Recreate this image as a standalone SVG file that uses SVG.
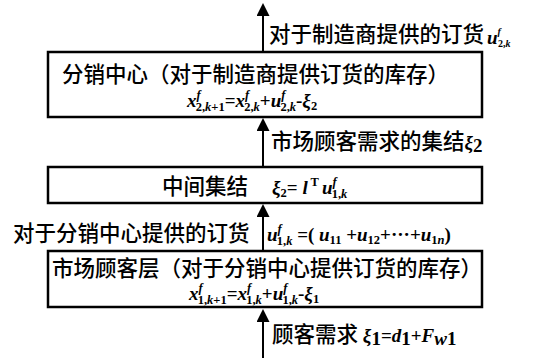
<svg xmlns="http://www.w3.org/2000/svg" width="533" height="358" viewBox="0 0 533 358">
<style>
.box{fill:#fff;stroke:#000;stroke-width:2.5}
.cn{font-family:"Noto Sans CJK SC","Liberation Sans",sans-serif;font-size:21.5px;font-weight:500;fill:#000}
.m{font-family:"Liberation Serif",serif;font-weight:bold;font-size:19px;fill:#000}
.i{font-style:italic}
.s{font-size:12.5px}
.conn{stroke:#000;stroke-width:2;fill:none;marker-end:url(#ah)}
</style>
<defs>
<marker id="ah" markerUnits="userSpaceOnUse" markerWidth="14" markerHeight="14" refX="3" refY="6.5" orient="auto">
<path d="M0,0 L13,6.5 L0,13 z" fill="#000"/>
</marker>
</defs>
<rect width="533" height="358" fill="#fff"/>
<g id="connectors">
<line class="conn" x1="263" y1="52" x2="263" y2="13"/>
<line class="conn" x1="263" y1="167" x2="263" y2="128"/>
<line class="conn" x1="263" y1="251" x2="263" y2="214"/>
<line class="conn" x1="263" y1="358" x2="263" y2="319"/>
</g>
<g id="label-top">
<text class="cn" x="269" y="42">对于制造商提供的订货</text>
<text class="m" x="487" y="44" font-size="15"><tspan class="i">u</tspan><tspan class="i" font-size="10" dy="-9">f</tspan><tspan font-size="10" dx="-3" dy="12">2,</tspan><tspan class="i" font-size="10">k</tspan></text>
</g>
<g id="node-distribution">
<rect class="box" x="48" y="52" width="434" height="65"/>
<text class="cn" x="62" y="82">分销中心（对于制造商提供订货的库存）</text>
<text class="m" x="187" y="107"><tspan class="i">x</tspan><tspan class="s i" dy="-8">f</tspan><tspan class="s" dx="-5" dy="12">2,</tspan><tspan class="s i">k</tspan><tspan class="s">+1</tspan><tspan dy="-4">=</tspan><tspan class="i">x</tspan><tspan class="s i" dy="-8">f</tspan><tspan class="s" dx="-5" dy="12">2,</tspan><tspan class="s i">k</tspan><tspan dy="-4">+</tspan><tspan class="i">u</tspan><tspan class="s i" dy="-8">f</tspan><tspan class="s" dx="-5" dy="12">2,</tspan><tspan class="s i">k</tspan><tspan dy="-4">-</tspan><tspan class="i">ξ</tspan><tspan class="s" dy="3">2</tspan></text>
</g>
<g id="label-aggregate">
<text class="cn" x="271" y="149">市场顾客需求的集结<tspan class="m i" font-size="19">ξ</tspan><tspan class="m" font-size="12.5" dy="3">2</tspan></text>
</g>
<g id="node-intermediate">
<rect class="box" x="48" y="167" width="434" height="36"/>
<text class="cn" x="162" y="194">中间集结</text>
<text class="m" x="272" y="194"><tspan class="i">ξ</tspan><tspan class="s" dy="3">2</tspan><tspan dy="-3">= </tspan><tspan class="i">l</tspan><tspan class="s" dy="-8"> T</tspan><tspan class="i" dx="3" dy="8">u</tspan><tspan class="s i" dy="-8">f</tspan><tspan class="s" dx="-5" dy="12">1,</tspan><tspan class="s i">k</tspan></text>
</g>
<g id="label-order">
<text class="cn" x="13" y="241">对于分销中心提供的订货</text>
<text class="m" x="267" y="241"><tspan class="i">u</tspan><tspan class="s i" dy="-8">f</tspan><tspan class="s" dx="-5" dy="12">1,</tspan><tspan class="s i">k</tspan><tspan dy="-4"> =( </tspan><tspan class="i">u</tspan><tspan class="s" dy="3">11</tspan><tspan dy="-3"> +</tspan><tspan class="i">u</tspan><tspan class="s" dy="3">12</tspan><tspan dy="-3">+···+</tspan><tspan class="i">u</tspan><tspan class="s" dy="3">1</tspan><tspan class="s i">n</tspan><tspan dy="-3">)</tspan></text>
</g>
<g id="node-market">
<rect class="box" x="48" y="251" width="434" height="56"/>
<text class="cn" x="52" y="276">市场顾客层（对于分销中心提供订货的库存）</text>
<text class="m" x="189" y="300"><tspan class="i">x</tspan><tspan class="s i" dy="-8">f</tspan><tspan class="s" dx="-5" dy="12">1,</tspan><tspan class="s i">k</tspan><tspan class="s">+1</tspan><tspan dy="-4">=</tspan><tspan class="i">x</tspan><tspan class="s i" dy="-8">f</tspan><tspan class="s" dx="-5" dy="12">1,</tspan><tspan class="s i">k</tspan><tspan dy="-4">+</tspan><tspan class="i">u</tspan><tspan class="s i" dy="-8">f</tspan><tspan class="s" dx="-5" dy="12">1,</tspan><tspan class="s i">k</tspan><tspan dy="-4">-</tspan><tspan class="i">ξ</tspan><tspan class="s" dy="3">1</tspan></text>
</g>
<g id="label-demand">
<text class="cn" x="272" y="342">顾客需求 <tspan class="m i" font-size="19">ξ</tspan><tspan class="m" font-size="12.5" dy="3">1</tspan><tspan class="m" font-size="19" dy="-3">=</tspan><tspan class="m i" font-size="19">d</tspan><tspan class="m" font-size="12.5" dy="3">1</tspan><tspan class="m" font-size="19" dy="-3">+</tspan><tspan class="m i" font-size="19">F</tspan><tspan class="m i" font-size="12.5" dy="3">w</tspan><tspan class="m" font-size="12.5">1</tspan></text>
</g>
</svg>
